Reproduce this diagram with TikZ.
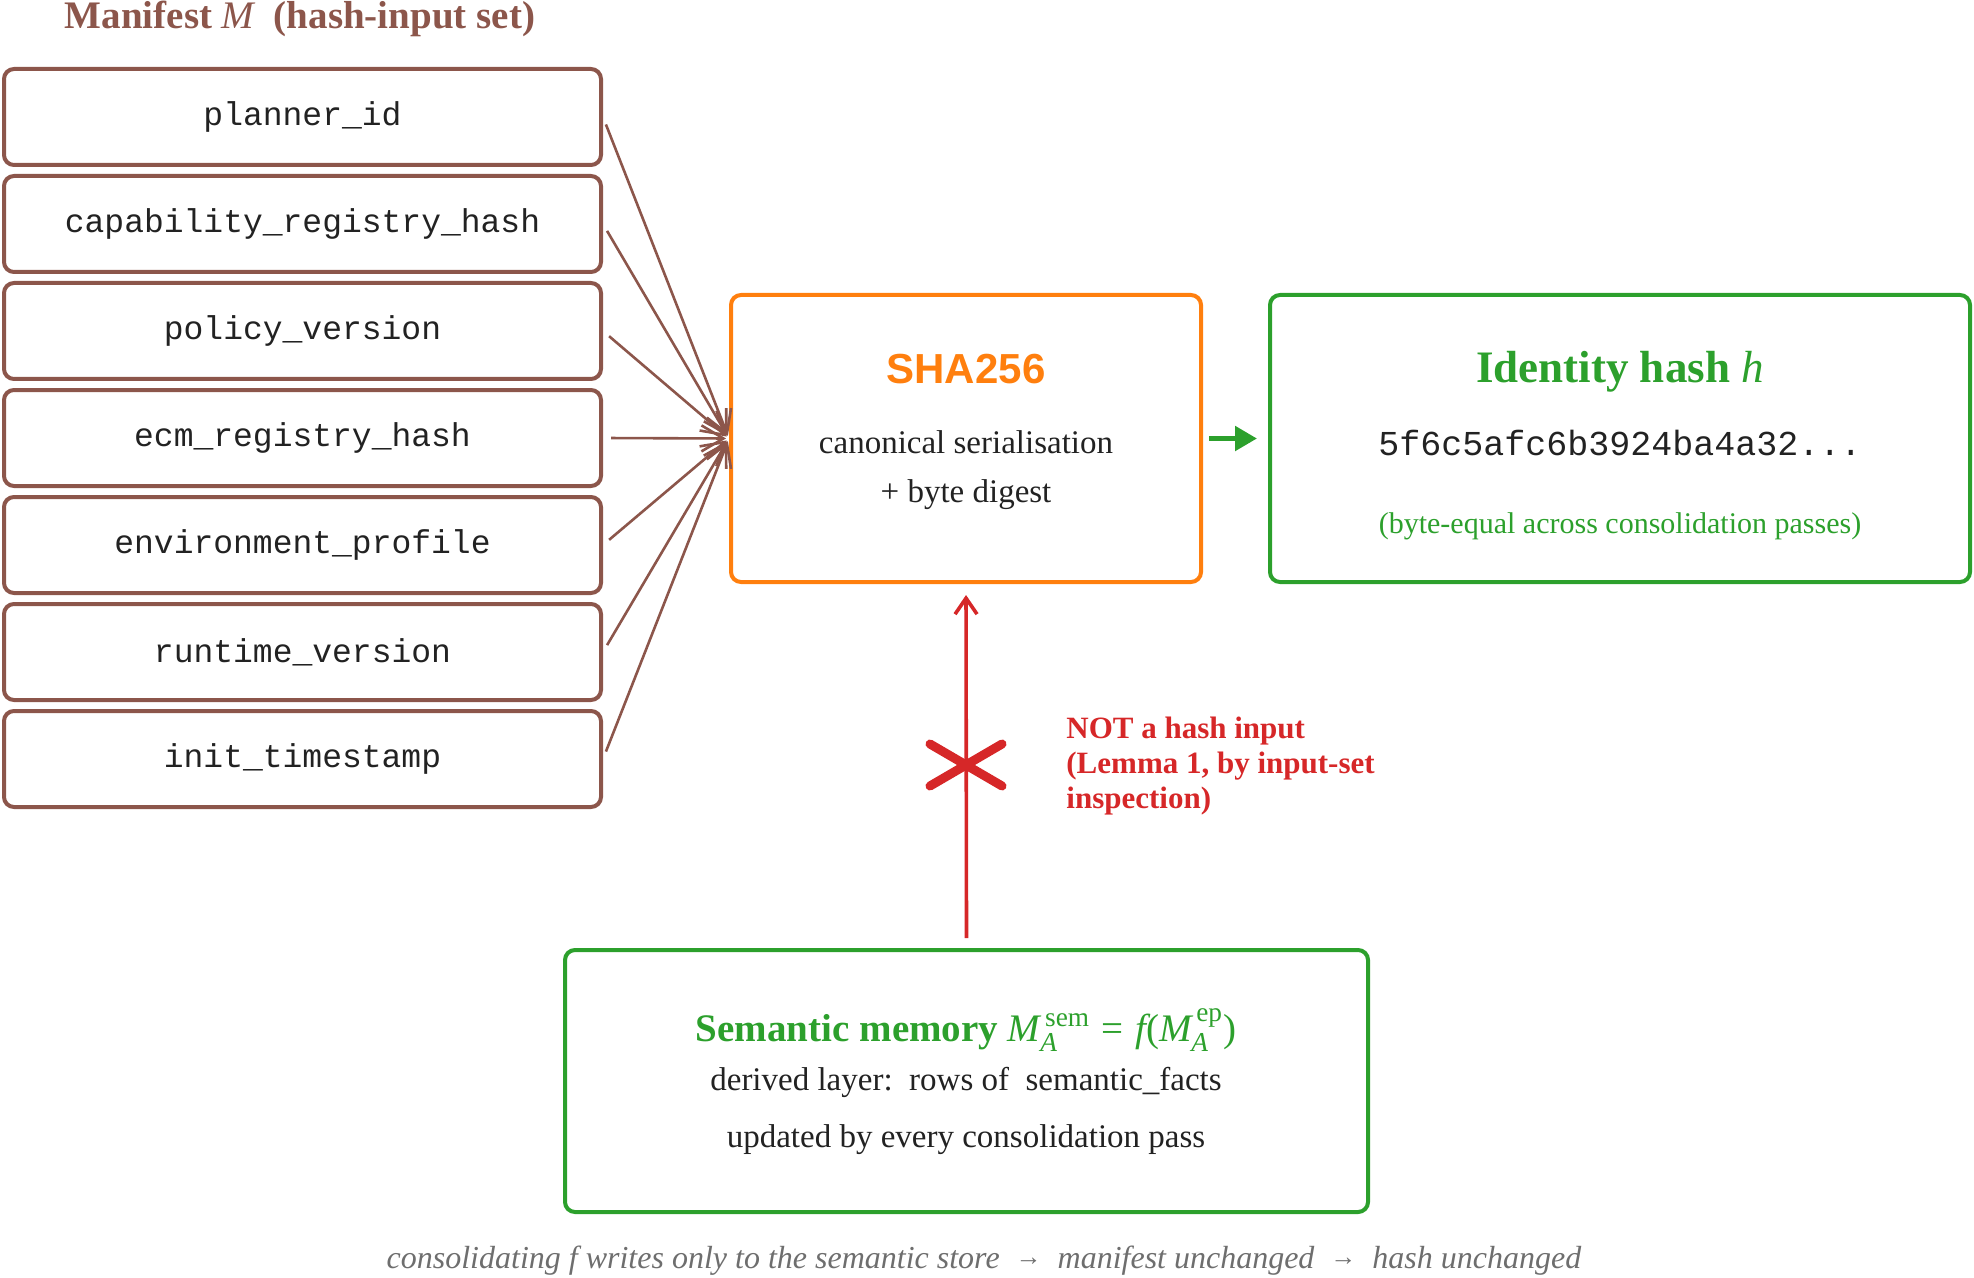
\documentclass[tikz,border=0pt]{standalone}
\usepackage{fontspec}
\usepackage{amsmath}
\setmainfont{Liberation Serif}
\setsansfont{Liberation Sans}
\setmonofont{Liberation Mono}
\usetikzlibrary{arrows.meta}
\definecolor{cbrown}{HTML}{8C564B}
\definecolor{corange}{HTML}{FF7F0E}
\definecolor{cgreen}{HTML}{2CA02C}
\definecolor{cred}{HTML}{D62728}
\definecolor{cdark}{HTML}{222222}
\definecolor{cgray}{HTML}{6E6E6E}
\newcommand{\fs}[1]{\fontsize{#1}{1.2\dimexpr#1pt\relax}\selectfont}
\newcommand{\capar}{\raisebox{1.5pt}{\fs{13}→}}
\tikzset{
  mbox/.style={draw=cbrown, line width=2pt, rounded corners=5pt, minimum width=298.5pt, minimum height=48pt, inner sep=0pt,
    font=\ttfamily\fs{16.5}, text=cdark},
  bigbox/.style={draw=#1, line width=2pt, rounded corners=5pt, inner sep=0pt},
  txt/.style={inner sep=0pt, text=cdark, font=\fs{16.5}},
  brownarrow/.style={draw=cbrown, line width=1.3pt, -{Straight Barb[length=11pt,width=13pt,line width=1.3pt]}, shorten <=4pt, shorten >=1.5pt},
  greenarrow/.style={draw=cgreen, line width=2.6pt, -{Triangle[length=11pt,width=12pt]}, shorten <=3pt, shorten >=5.5pt},
  redarrow/.style={draw=cred, line width=1.8pt, -{Straight Barb[length=8pt,width=11pt,line width=1.8pt]}, shorten <=5pt, shorten >=5.5pt},
}
\begin{document}
\begin{tikzpicture}[x=0.5pt,y=-0.5pt]
\useasboundingbox (0,0) rectangle (1974,1278);

% title
\node[inner sep=0pt, text=cbrown, font=\bfseries\fs{19.5}] (title) at (300,19) {Manifest {\mdseries\itshape M}\ \ (hash-input set)};

% manifest boxes
\node[mbox] (m1) at (302.5,117) {planner\_id};
\node[mbox] (m2) at (302.5,224) {capability\_registry\_hash};
\node[mbox] (m3) at (302.5,331) {policy\_version};
\node[mbox] (m4) at (302.5,438) {ecm\_registry\_hash};
\node[mbox] (m5) at (302.5,545) {environment\_profile};
\node[mbox] (m6) at (302.5,652) {runtime\_version};
\node[mbox] (m7) at (302.5,759) {init\_timestamp};

% SHA box
\node[bigbox=corange, minimum width=235pt, minimum height=143.5pt] (sha) at (966,438.5) {};
\node[inner sep=0pt, text=corange, font=\sffamily\bfseries\fs{21}] (shat) at (966,369) {SHA256};
\node[txt] (sha1) at (966,442) {canonical serialisation};
\node[txt] (sha2) at (966,495) {+ byte digest};

% identity box
\node[bigbox=cgreen, minimum width=350pt, minimum height=143.5pt] (id) at (1620,438.5) {};
\node[inner sep=0pt, text=cgreen, font=\bfseries\fs{22.5}] (idt) at (1620,372) {Identity hash {\mdseries\itshape h}};
\node[inner sep=0pt, text=cdark, font=\ttfamily\fs{17.5}] (idh) at (1620,443) {5f6c5afc6b3924ba4a32...};
\node[inner sep=0pt, text=cgreen, font=\fs{15}] (idn) at (1620,526) {(byte-equal across consolidation passes)};

% semantic box
\node[bigbox=cgreen, minimum width=401.5pt, minimum height=131pt] (sem) at (966.5,1081) {};
\node[inner sep=0pt, text=cgreen, font=\fs{19.5}] (semt) at (966,1030) {\textbf{Semantic memory} $\text{\itshape M}_{\text{\itshape A}}^{\,\text{sem}}\mathrel{\text{=}}\text{\itshape f}\text{(}\text{\itshape M}_{\text{\itshape A}}^{\,\text{ep}}\text{)}$};
\node[txt] (sem1) at (966,1082) {derived layer:\ \ rows of\ \ semantic\_facts};
\node[txt] (sem2) at (966,1140) {updated by every consolidation pass};

% connectors
\foreach \i in {1,...,7} \draw[brownarrow] (m\i.east) -- (sha.west);
\draw[greenarrow] (sha.east) -- (id.west);
\draw[redarrow] (sem.north) -- (sha.south);

% cross mark
\coordinate (xm) at (966,765);
\draw[cred, line width=4.5pt, line cap=round] (xm) ++(-36,-21) -- ++(72,42);
\draw[cred, line width=4.5pt, line cap=round] (xm) ++(-36,21) -- ++(72,-42);

% red note
\node[anchor=west, inner sep=0pt, text=cred, align=left, font=\bfseries\fontsize{15.5}{17.5}\selectfont] (note) at (1066,766) {NOT a hash input\\(Lemma 1, by input-set\\inspection)};

% caption
\node[inner sep=0pt, text=cgray, font=\itshape\fs{16}] (cap) at (984,1261) {consolidating \textit{f} writes only to the semantic store\ \ \capar\ \ manifest unchanged\ \ \capar\ \ hash unchanged};
\end{tikzpicture}
\end{document}
